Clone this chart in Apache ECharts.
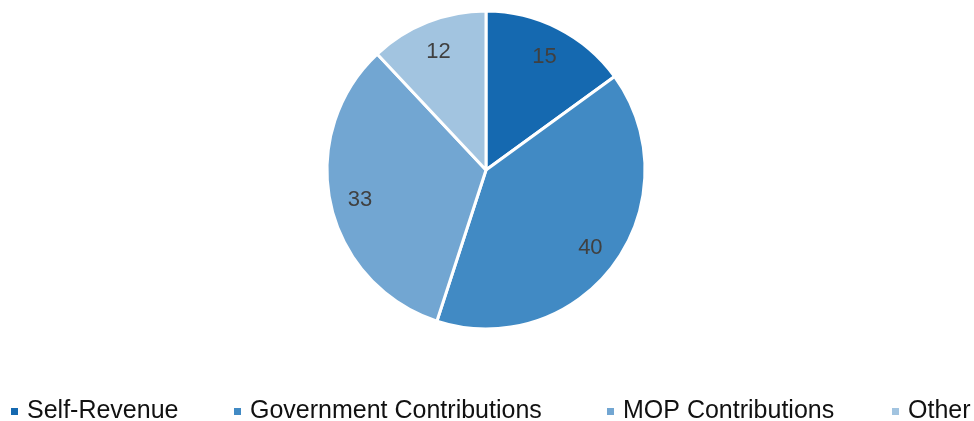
<!DOCTYPE html>
<html><head><meta charset="utf-8">
<script src="https://cdn.jsdelivr.net/npm/echarts@6/dist/echarts.min.js"></script>
<style>html,body{margin:0;padding:0;background:#fff}#c{width:974px;height:421px}</style>
</head><body><div id="c"></div>
<script>
const categories = ['Self-Revenue', 'Government Contributions', 'MOP Contributions', 'Other'];
const values = [15, 40, 33, 12];
const colors = ['#1569B0', '#418AC4', '#72A6D2', '#A2C4E0'];
const legendLeft = [9, 232, 605, 890];

const chart = echarts.init(document.getElementById('c'), null, {renderer: 'canvas'});
const data = categories.map((n, i) => ({name: n, value: values[i], itemStyle: {color: colors[i]}}));
chart.setOption({
  animation: false,
  textStyle: {fontFamily: 'Liberation Sans, Arial, sans-serif'},
  legend: categories.map((n, i) => ({
    data: [n],
    left: legendLeft[i], top: 399, padding: 0,
    icon: 'rect', itemWidth: 9, itemHeight: 9,
    textStyle: {fontSize: 25, color: '#111', fontFamily: 'Liberation Sans', padding: [0,0,0,3]}
  })),
  series: [{
    type: 'pie', center: [486, 170], radius: [0, 159],
    startAngle: 90, clockwise: true,
    itemStyle: {borderColor: '#fff', borderWidth: 3},
    label: {show: false}, labelLine: {show: false},
    data: data
  }, {
    type: 'pie', center: [486, 172], radius: [0, 252],
    startAngle: 90, clockwise: true, silent: true,
    itemStyle: {color: 'rgba(0,0,0,0)'},
    label: {show: true, position: 'inside', formatter: '{c}', fontSize: 22, color: '#404040', fontFamily: 'Liberation Sans'},
    labelLine: {show: false},
    data: categories.map((n, i) => ({name: n, value: values[i], itemStyle: {color: 'rgba(0,0,0,0)'}}))
  }]
});
</script></body></html>
